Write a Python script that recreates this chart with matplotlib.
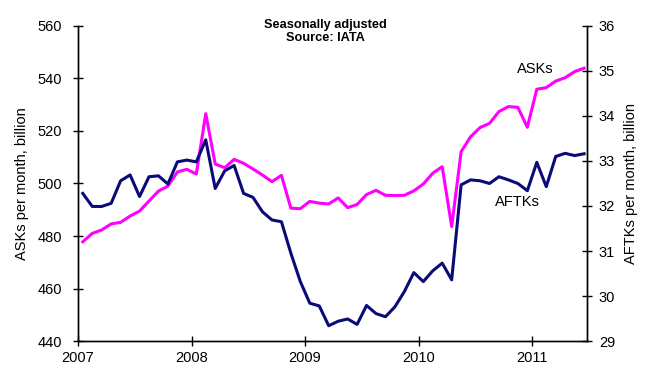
import matplotlib
matplotlib.use("Agg")
import matplotlib.pyplot as plt
import numpy as np

plt.rcParams['font.family'] = ['Liberation Sans', 'DejaVu Sans']

# Monthly data, Jan 2007 - Jun 2011 (seasonally adjusted)
start_year = 2007
asks = [477.8, 481.0, 482.3, 484.6, 485.2, 487.6, 489.5, 493.3, 497.1, 499.0, 504.4, 505.4,
        503.6, 526.6, 507.4, 506.0, 509.2, 507.7, 505.5, 503.2, 500.7, 503.1, 490.6, 490.4,
        493.2, 492.5, 492.2, 494.5, 490.8, 492.0, 495.8, 497.4, 495.5, 495.4, 495.5, 497.2,
        499.8, 503.9, 506.4, 483.6, 512.1, 517.8, 521.3, 522.9, 527.4, 529.3, 529.0, 521.4,
        535.9, 536.5, 539.0, 540.3, 542.6, 543.9]
aftks = [32.28, 31.99, 31.99, 32.06, 32.56, 32.69, 32.21, 32.65, 32.67, 32.49, 32.98, 33.02,
         32.98, 33.47, 32.39, 32.78, 32.90, 32.28, 32.19, 31.87, 31.69, 31.65, 30.95, 30.32,
         29.84, 29.78, 29.34, 29.44, 29.49, 29.37, 29.79, 29.61, 29.54, 29.76, 30.10, 30.52,
         30.32, 30.56, 30.73, 30.36, 32.47, 32.58, 32.56, 32.50, 32.65, 32.58, 32.50, 32.34,
         32.97, 32.43, 33.10, 33.17, 33.12, 33.16]
year_ticks = [2007, 2008, 2009, 2010, 2011]
left_ticks = [440, 460, 480, 500, 520, 540, 560]
right_ticks = [29, 30, 31, 32, 33, 34, 35, 36]

x = start_year + (np.arange(len(asks)) + 0.5) / 12.0

fig = plt.figure(figsize=(6.56, 3.76), dpi=100)
ax = fig.add_axes([0.119, 0.093, 0.776, 0.838])
ax2 = ax.twinx()

magenta = '#FF00FF'
navy = '#0A0A78'
ax.plot(x, asks, color=magenta, lw=2.2, zorder=3)
ax2.plot(x, aftks, color=navy, lw=2.2, zorder=3)

ax.set_xlim(2007, 2011.485)
ax.set_ylim(440, 560)
ax2.set_ylim(29, 36)
ax.set_xticks(year_ticks)
ax.set_xticklabels([str(y) for y in year_ticks])
ax.set_yticks(left_ticks)
ax2.set_yticks(right_ticks)

for a in (ax, ax2):
    a.spines['top'].set_visible(False)
    for s in a.spines.values():
        s.set_linewidth(1.0)
        s.set_color('black')
    a.tick_params(direction='inout', length=7, width=1.0, labelsize=10.5, colors='black')
ax.tick_params(axis='y', pad=8)
ax.tick_params(axis='x', pad=4)
ax2.tick_params(axis='y', pad=5)

ax.set_ylabel('ASKs per month, billion', fontsize=10.5, labelpad=6)
ax2.set_ylabel('AFTKs per month, billion', fontsize=10.5, labelpad=6)

ax.text(0.486, 0.9825, 'Seasonally adjusted\nSource: IATA', transform=ax.transAxes,
        ha='center', va='center', fontsize=9.2, fontweight='bold', linespacing=1.15)

ax.text(2011.03, 543.6, 'ASKs', ha='center', va='center', fontsize=10.5)
ax.text(2010.87, 493.0, 'AFTKs', ha='center', va='center', fontsize=10.5)

fig.savefig('out.png', dpi=100)
